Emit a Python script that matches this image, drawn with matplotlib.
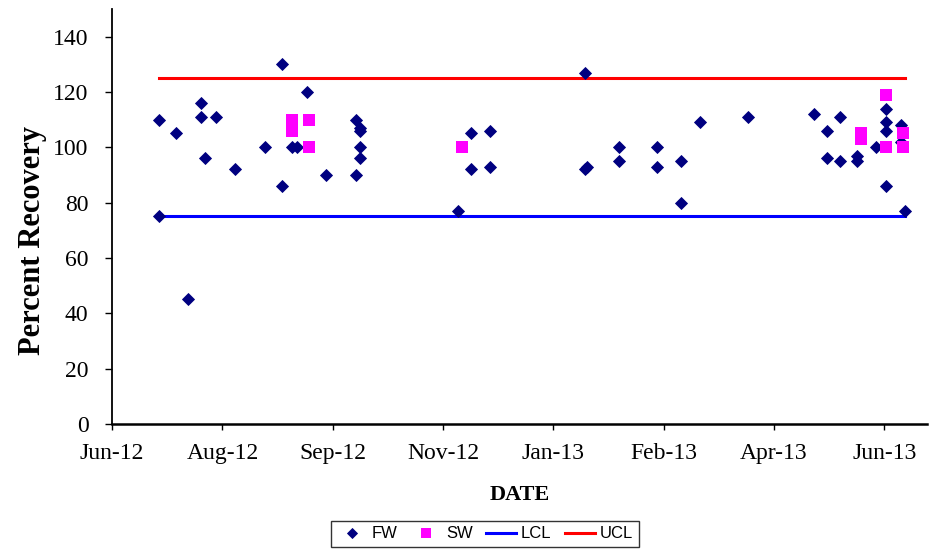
import numpy as np
import pandas as pd
import matplotlib
matplotlib.use("Agg")
import matplotlib.pyplot as plt
import matplotlib.dates as mdates

# FW recoveries (one entry per sample, dates can repeat)
fw_dates = ['2012-07-03', '2012-07-03', '2012-07-11', '2012-07-17', '2012-07-23', '2012-07-23',
            '2012-07-25', '2012-07-30', '2012-08-08', '2012-08-22', '2012-08-30', '2012-08-30',
            '2012-09-04', '2012-09-06', '2012-09-11', '2012-09-20', '2012-10-04', '2012-10-04',
            '2012-10-06', '2012-10-06', '2012-10-06', '2012-10-06', '2012-11-21', '2012-11-27',
            '2012-11-27', '2012-12-06', '2012-12-06', '2013-01-20', '2013-01-20', '2013-01-21',
            '2013-02-05', '2013-02-05', '2013-02-23', '2013-02-23', '2013-03-06', '2013-03-06',
            '2013-03-15', '2013-04-07', '2013-05-08', '2013-05-14', '2013-05-14', '2013-05-20',
            '2013-05-20', '2013-05-28', '2013-05-28', '2013-06-06', '2013-06-11', '2013-06-11',
            '2013-06-11', '2013-06-11', '2013-06-18', '2013-06-18', '2013-06-20']
fw_values = [110, 75, 105, 45, 116, 111,
             96, 111, 92, 100, 130, 86,
             100, 100, 120, 90, 110, 90,
             107, 106, 100, 96, 77, 105,
             92, 106, 93, 127, 92, 93,
             100, 95, 100, 93, 95, 80,
             109, 111, 112, 106, 96, 111,
             95, 97, 95, 100, 114, 109,
             106, 86, 108, 102, 77]

# SW recoveries
sw_dates = ['2012-09-04', '2012-09-04', '2012-09-12', '2012-09-12', '2012-11-23',
            '2013-05-30', '2013-05-30', '2013-06-11', '2013-06-11', '2013-06-19', '2013-06-19']
sw_values = [110, 106, 110, 100, 100,
             105, 103, 119, 100, 105, 100]

# control limits
limit_dates = ['2012-07-03', '2013-06-20']
lcl_values = [75, 75]
ucl_values = [125, 125]

y_ticks = [0, 20, 40, 60, 80, 100, 120, 140]

plt.rcParams['font.family'] = ['Liberation Serif', 'DejaVu Serif']

fig = plt.figure(figsize=(9.42, 5.51), dpi=100)
ax = fig.add_axes([0.119, 0.2305, 0.8647, 0.7532])

ax.plot(pd.to_datetime(fw_dates), fw_values, linestyle='none', marker='D', markersize=6.6,
        color='#000080', markeredgewidth=0.6, label='FW', zorder=3)
ax.plot(pd.to_datetime(sw_dates), sw_values, linestyle='none', marker='s', markersize=8.2,
        color='#FF00FF', markeredgewidth=0, label='SW', zorder=4)
ax.plot(pd.to_datetime(limit_dates), lcl_values, color='#0000FF', linewidth=2.2, label='LCL', zorder=2)
ax.plot(pd.to_datetime(limit_dates), ucl_values, color='#FF0000', linewidth=2.2, label='UCL', zorder=2)

# Excel-style date axis: ticks every 52 days
x_start = pd.Timestamp('2012-06-11')
x_end = pd.Timestamp('2013-06-30')
ax.set_xlim(x_start, x_end)
ax.set_xticks(pd.date_range(x_start, periods=8, freq='52D'))
ax.xaxis.set_major_formatter(mdates.DateFormatter('%b-%y'))

ax.set_ylim(0, 150)
ax.set_yticks(y_ticks)

for side in ['top', 'right']:
    ax.spines[side].set_visible(False)
ax.spines['left'].set_linewidth(1.3)
ax.spines['bottom'].set_linewidth(1.8)

ax.tick_params(axis='y', direction='out', length=5, width=1, pad=12, labelsize=17)
ax.tick_params(axis='x', direction='out', length=4, width=1, pad=10, labelsize=17)

ax.set_xlabel('DATE', fontsize=16, fontweight='bold', labelpad=15)
ax.set_ylabel('Percent Recovery', fontsize=22, fontweight='bold')
ax.yaxis.set_label_coords(-0.080, 0.443)

leg = fig.legend(loc='center', bbox_to_anchor=(485 / 942, 1 - 534 / 551), ncol=4,
                 prop={'family': 'Liberation Sans', 'size': 12}, frameon=True, fancybox=False,
                 edgecolor='black', handlelength=1.8, handletextpad=0.3, columnspacing=0.8,
                 borderpad=0.35, markerscale=0.8)
leg.get_frame().set_linewidth(1)

fig.savefig('out.png', dpi=100)
